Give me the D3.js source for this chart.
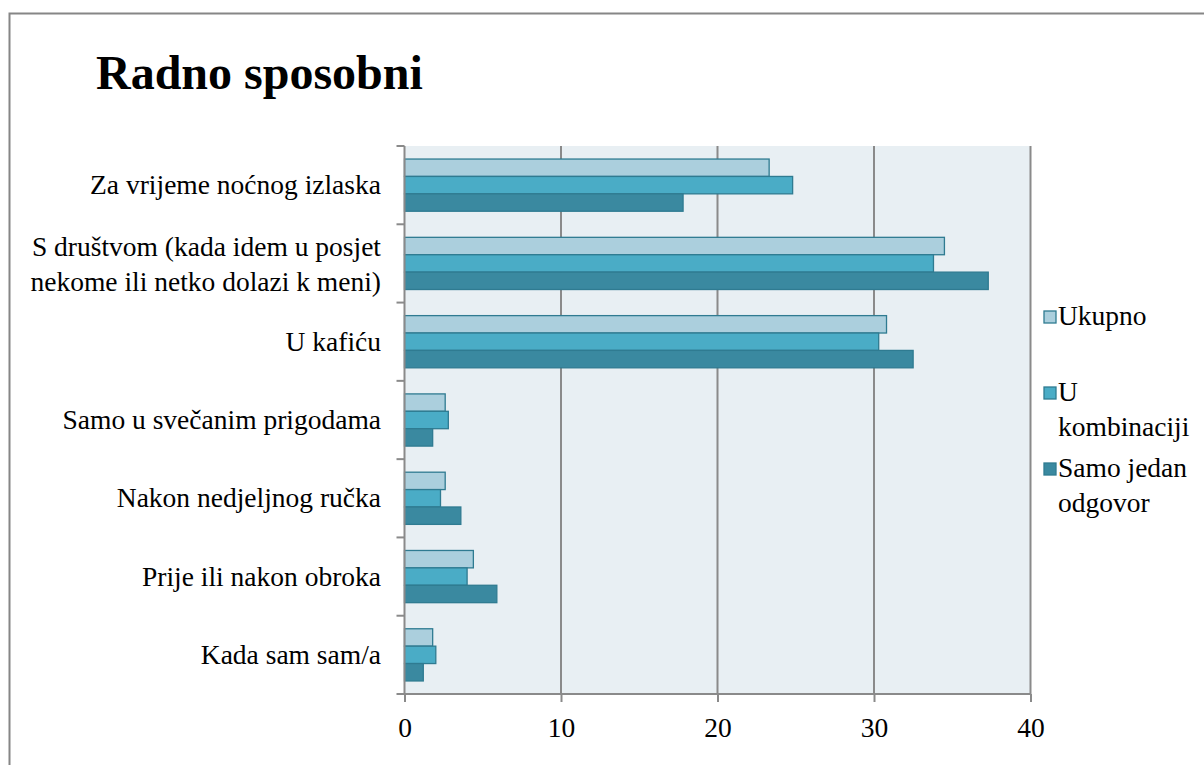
<!DOCTYPE html>
<html>
<head>
<meta charset="utf-8">
<script src="https://cdn.jsdelivr.net/npm/d3@7"></script>
<style>
  body { margin: 0; background: #fff; }
</style>
</head>
<body>
<div id="chart"></div>
<script>
// data
var categories = [
    ["Za vrijeme noćnog izlaska"],
    ["S društvom (kada idem u posjet", "nekome ili netko dolazi k meni)"],
    ["U kafiću"],
    ["Samo u svečanim prigodama"],
    ["Nakon nedjeljnog ručka"],
    ["Prije ili nakon obroka"],
    ["Kada sam sam/a"]
];
var seriesNames = ["Ukupno", "U kombinaciji", "Samo jedan odgovor"];
var legendLines = [["Ukupno"], ["U", "kombinaciji"], ["Samo jedan", "odgovor"]];
var ukupno = [23.3, 34.5, 30.8, 2.6, 2.6, 4.4, 1.8];
var uKombinaciji = [24.8, 33.8, 30.3, 2.8, 2.3, 4.0, 2.0];
var samoJedan = [17.8, 37.3, 32.5, 1.8, 3.6, 5.9, 1.2];
var xTicks = [0, 10, 20, 30, 40];

var colors = ["#abcfdd", "#4aacc6", "#3a89a0"];
var strokeColor = "#2f7b91";
var serif = "'Liberation Serif', 'Times New Roman', serif";
var fontSize = "27.5px";

var svgWidth = 1204;
var svgHeight = 765;

var plot = { left: 404.5, right: 1030.5, top: 146, bottom: 694 };

var svg = d3.select("#chart")
    .append("svg")
    .attr("width", svgWidth)
    .attr("height", svgHeight)
    .style("font-family", serif);

// outer frame
svg.append("rect")
    .attr("x", 9.5)
    .attr("y", 13.5)
    .attr("width", 1220)
    .attr("height", 800)
    .attr("fill", "none")
    .attr("stroke", "#868686")
    .attr("stroke-width", 2);

svg.append("text")
    .attr("x", 96)
    .attr("y", 89)
    .style("font-family", serif)
    .style("font-size", "48px")
    .style("font-weight", "bold")
    .text("Radno sposobni");

var xScale = d3.scaleLinear()
    .domain([0, 40])
    .range([plot.left, plot.right]);

var yScale = d3.scaleBand()
    .domain(d3.range(categories.length))
    .range([plot.top, plot.bottom])
    .paddingInner(1.5 / 4.5)
    .paddingOuter(0.75 / 4.5);

var inner = d3.scaleBand()
    .domain(d3.range(3))
    .range([0, yScale.bandwidth()]);

// plot background
svg.append("rect")
    .attr("x", plot.left)
    .attr("y", plot.top)
    .attr("width", plot.right - plot.left)
    .attr("height", plot.bottom - plot.top)
    .attr("fill", "#e8eff3");

// gridlines
svg.append("g")
    .selectAll("line")
    .data(xTicks.slice(1))
    .enter()
    .append("line")
    .attr("x1", d => xScale(d))
    .attr("x2", d => xScale(d))
    .attr("y1", plot.top)
    .attr("y2", plot.bottom)
    .attr("stroke", "#8a8a8a")
    .attr("stroke-width", 2);

// bars
var series = [ukupno, uKombinaciji, samoJedan];
series.forEach(function (vals, s) {
    svg.append("g")
        .selectAll("rect")
        .data(vals)
        .enter()
        .append("rect")
        .attr("x", xScale(0))
        .attr("y", (d, i) => yScale(i) + inner(s))
        .attr("width", d => xScale(d) - xScale(0))
        .attr("height", inner.bandwidth())
        .attr("fill", colors[s])
        .attr("stroke", strokeColor)
        .attr("stroke-width", 1.3);
});

// x axis
var bottomAxis = d3.axisBottom(xScale)
    .tickValues(xTicks)
    .tickSize(8)
    .tickPadding(15);

var xAxisG = svg.append("g")
    .attr("transform", `translate(0, ${plot.bottom})`)
    .call(bottomAxis)
    .attr("font-family", null)
    .attr("font-size", null);
xAxisG.select(".domain").attr("stroke", "#8a8a8a").attr("stroke-width", 2)
    .attr("d", `M${plot.left - 8},0H${plot.right}`);
xAxisG.selectAll(".tick line").attr("stroke", "#8a8a8a").attr("stroke-width", 2);
xAxisG.selectAll("text")
    .style("font-family", serif)
    .style("font-size", fontSize)
    .attr("fill", "#000");

// y axis line with ticks at band boundaries
svg.append("line")
    .attr("x1", plot.left)
    .attr("x2", plot.left)
    .attr("y1", plot.top)
    .attr("y2", plot.bottom)
    .attr("stroke", "#8a8a8a")
    .attr("stroke-width", 2);

var step = yScale.step();
svg.append("g")
    .selectAll("line")
    .data(d3.range(categories.length))
    .enter()
    .append("line")
    .attr("x1", plot.left - 8)
    .attr("x2", plot.left)
    .attr("y1", d => yScale(d) - yScale.paddingOuter() * step)
    .attr("y2", d => yScale(d) - yScale.paddingOuter() * step)
    .attr("stroke", "#8a8a8a")
    .attr("stroke-width", 2);

// category labels
svg.append("g")
    .selectAll("text")
    .data(categories)
    .enter()
    .append("text")
    .attr("text-anchor", "end")
    .style("font-family", serif)
    .style("font-size", fontSize)
    .attr("fill", "#000")
    .attr("x", 381)
    .attr("y", (d, i) => yScale(i) + yScale.bandwidth() / 2 + 9 - (d.length - 1) * 16)
    .each(function (d) {
        var t = d3.select(this);
        d.forEach(function (line, k) {
            t.append("tspan")
                .attr("x", 381)
                .attr("dy", k === 0 ? 0 : 35)
                .text(line);
        });
    });

// legend
var legendY = [325, 401, 477];
var legend = svg.append("g");
legendLines.forEach(function (lines, s) {
    legend.append("rect")
        .attr("x", 1044)
        .attr("y", legendY[s] - 14)
        .attr("width", 12)
        .attr("height", 12)
        .attr("fill", colors[s])
        .attr("stroke", strokeColor)
        .attr("stroke-width", 1.3);
    var t = legend.append("text")
        .attr("x", 1058)
        .attr("y", legendY[s])
        .style("font-family", serif)
        .style("font-size", fontSize)
        .attr("fill", "#000");
    lines.forEach(function (line, k) {
        t.append("tspan")
            .attr("x", 1058)
            .attr("dy", k === 0 ? 0 : 35)
            .text(line);
    });
});
</script>
</body>
</html>
